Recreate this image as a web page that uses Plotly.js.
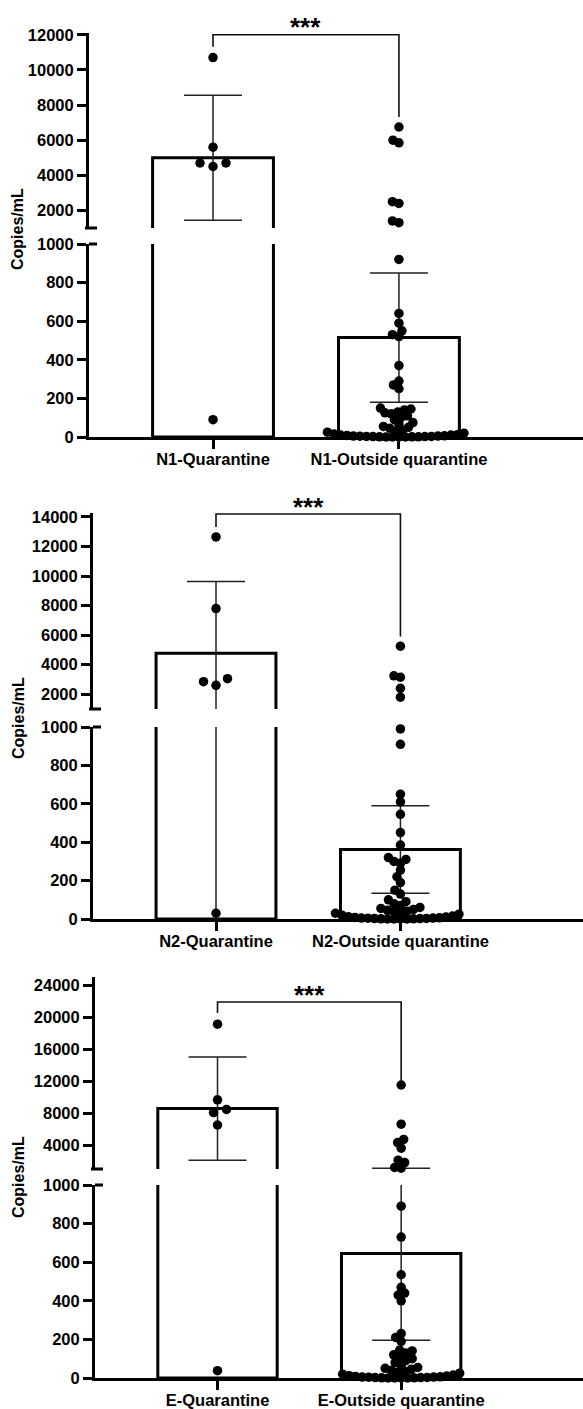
<!DOCTYPE html>
<html>
<head>
<meta charset="utf-8">
<script src="https://cdn.plot.ly/plotly-3.0.1.min.js"></script>
<style>html,body{margin:0;padding:0;background:#fff;}#chart{width:583px;height:1409px;}</style>
</head>
<body>
<div id="chart"></div>
<script>
// ---------- DATA ----------
const categoriesN1 = ['N1-Quarantine', 'N1-Outside quarantine'];
const categoriesN2 = ['N2-Quarantine', 'N2-Outside quarantine'];
const categoriesE  = ['E-Quarantine',  'E-Outside quarantine'];

const meansN1 = [5000, 515];
const sdN1    = [3560, 335];
const meansN2 = [4780, 362];
const sdN2    = [4850, 228];
const meansE  = [8550, 645];
const sdE     = [6450, 450];

const quarantineN1 = [10700, 5600, 4700, 4500, 4700, 90];
const outsideN1 = [6750, 6000, 5850, 2500, 2400, 1400, 1300,
  920, 640, 590, 550, 530, 520, 370, 290, 270, 250,
  150, 145, 140, 130, 125, 120, 110, 100, 90, 75, 65, 55, 50, 45,
  35, 30, 25, 20, 15, 12, 10, 10, 8, 6, 5, 5, 4, 3, 3, 2, 2, 1, 1, 1, 0, 0, 0, 0];

const quarantineN2 = [12650, 7800, 3050, 2600, 2850, 30];
const outsideN2 = [5250, 3250, 3150, 2400, 1800,
  990, 910, 650, 610, 545, 450, 385, 320, 310, 300, 290, 255, 220, 190, 150, 130,
  100, 90, 80, 70, 60, 55, 50, 45,
  40, 38, 35, 30, 25, 20, 15, 12, 10, 8, 6, 5, 5, 4, 3, 2, 2, 1, 1, 0, 0, 0, 0];

const quarantineE = [19100, 9650, 8450, 8050, 6500, 38];
const outsideE = [11500, 6600, 4700, 4300, 3600, 2100, 1800, 1200, 1100,
  890, 730, 535, 470, 440, 430, 400, 230, 210, 190,
  145, 140, 130, 120, 110, 100, 90, 80, 65, 55, 50, 45,
  40, 35, 30, 25, 20, 15, 12, 10, 8, 6, 5, 5, 4, 3, 2, 2, 1, 1, 0, 0, 0, 0];

const lowerTicks = [0, 200, 400, 600, 800, 1000];
const upperTicksN1 = [2000, 4000, 6000, 8000, 10000, 12000];
const upperTicksN2 = [2000, 4000, 6000, 8000, 10000, 12000, 14000];
const upperTicksE  = [4000, 8000, 12000, 16000, 20000, 24000];
const significance = ['***', '***', '***'];
const yTitle = 'Copies/mL';

// ---------- LAYOUT SETTINGS (pixels) ----------
const W = 583, H = 1409;
const FONT = 'Liberation Sans, Arial, Helvetica, sans-serif';
const XR = [-0.667, 1.99];
const panels = [
  {cats: categoriesN1, means: meansN1, sd: sdN1, q: quarantineN1, o: outsideN1, upTicks: upperTicksN1,
   axisX: 89, upT: 33, upB: 228, upTop: 12100, loT: 244, loB: 437,
   br: [11314, 12000, 7314], starY: 27, titleY: 229},
  {cats: categoriesN2, means: meansN2, sd: sdN2, q: quarantineN2, o: outsideN2, upTicks: upperTicksN2,
   axisX: 93, upT: 513, upB: 709, upTop: 14270, loT: 727, loB: 919,
   br: [13326, 14200, 5909], starY: 507, titleY: 718},
  {cats: categoriesE, means: meansE, sd: sdE, q: quarantineE, o: outsideE, upTicks: upperTicksE,
   axisX: 95, upT: 977, upB: 1169, upTop: 25000, loT: 1185, loB: 1378,
   br: [20500, 21875, 11750], starY: 995, titleY: 1177}
];

function swarmOffsets(vals, toPx, D) {
  const idx = vals.map((v, i) => i).sort((a, b) => vals[a] - vals[b]);
  const placed = [];
  const off = new Array(vals.length).fill(0);
  for (const i of idx) {
    const py = toPx(vals[i]);
    let chosen = 0;
    for (let k = 0; k < 600; k++) {
      const cand = (k % 2 === 0 ? 1 : -1) * Math.ceil(k / 2) * 0.5;
      let ok = true;
      for (const p of placed) {
        const dx = cand - p.x, dy = py - p.y;
        if (dx * dx + dy * dy < D * D) { ok = false; break; }
      }
      if (ok) { chosen = cand; break; }
    }
    placed.push({x: chosen, y: py});
    off[i] = chosen;
  }
  return off;
}

const traces = [];
const layout = {
  width: W, height: H, margin: {l: 0, r: 0, t: 0, b: 0},
  paper_bgcolor: '#fff', plot_bgcolor: '#fff', showlegend: false,
  shapes: [], annotations: []
};
const tickFont = {family: FONT, size: 16.5, weight: 'bold', color: '#000'};

panels.forEach((P, i) => {
  const xk = i === 0 ? 'x' : 'x' + (i + 1);
  const ylo = 'y' + (2 * i + 1 === 1 ? '' : (2 * i + 1));
  const yup = 'y' + (2 * i + 2);
  const xName = 'xaxis' + (i === 0 ? '' : i + 1);
  const yloName = 'yaxis' + (2 * i + 1 === 1 ? '' : (2 * i + 1));
  const yupName = 'yaxis' + (2 * i + 2);

  const common = {showline: true, linewidth: 3, linecolor: '#000', ticks: 'outside', ticklen: 9,
    tickwidth: 3, tickcolor: '#000', showgrid: false, zeroline: false, tickfont: tickFont,
    fixedrange: true, tickformat: 'd'};

  layout[xName] = Object.assign({}, common, {domain: [P.axisX / W, 1], range: XR, anchor: ylo,
    tickmode: 'array', tickvals: [0, 1], ticktext: P.cats, ticklabelstandoff: -4});
  layout[yloName] = Object.assign({}, common, {domain: [1 - P.loB / H, 1 - P.loT / H], range: [0, 1000],
    anchor: xk, tickmode: 'array', tickvals: lowerTicks});
  layout[yupName] = Object.assign({}, common, {domain: [1 - P.upB / H, 1 - P.upT / H], range: [1000, P.upTop],
    anchor: xk, tickmode: 'array', tickvals: P.upTicks});

  // bars in both segments
  [ylo, yup].forEach(ya => {
    traces.push({type: 'bar', x: [0, 1], y: P.means, xaxis: xk, yaxis: ya, width: 0.65,
      marker: {color: '#fff', line: {color: '#000', width: 3}},
      error_y: {type: 'data', array: P.sd, visible: true, color: '#222', thickness: 1.5, width: 29},
      hoverinfo: 'skip'});
  });

  // points
  const toPx = v => v < 1000 ? P.loB - v / 1000 * (P.loB - P.loT)
                             : P.upB - (v - 1000) / (P.upTop - 1000) * (P.upB - P.upT);
  const pxPerUnit = (W - P.axisX) / (XR[1] - XR[0]);
  const lo = {x: [], y: []}, up = {x: [], y: []};
  [P.q, P.o].forEach((vals, cat) => {
    const off = swarmOffsets(vals, toPx, cat === 0 ? 13 : 6.5);
    vals.forEach((v, j) => {
      const t = v < 1000 ? lo : up;
      t.x.push(cat + off[j] / pxPerUnit);
      t.y.push(v);
    });
  });
  [[lo, ylo], [up, yup]].forEach(([d, ya]) => {
    traces.push({type: 'scatter', mode: 'markers', x: d.x, y: d.y, xaxis: xk, yaxis: ya,
      cliponaxis: false, marker: {color: '#000', size: 9.5}, hoverinfo: 'skip'});
  });

  // significance bracket
  layout.shapes.push({type: 'path', xref: xk, yref: yup,
    path: `M0,${P.br[0]} L0,${P.br[1]} L1,${P.br[1]} L1,${P.br[2]}`,
    line: {color: '#111', width: 1.6}});
  // axis break marks
  layout.shapes.push({type: 'line', xref: 'paper', yref: 'paper',
    x0: (P.axisX - 4) / W, x1: (P.axisX + 8) / W, y0: 1 - P.upB / H, y1: 1 - P.upB / H,
    line: {color: '#000', width: 3}});
  layout.shapes.push({type: 'line', xref: 'paper', yref: 'paper',
    x0: (P.axisX) / W, x1: (P.axisX + 8) / W, y0: 1 - P.loT / H, y1: 1 - P.loT / H,
    line: {color: '#000', width: 3}});

  layout.annotations.push({text: significance[i], xref: xk, yref: 'paper', x: 0.5, y: 1 - P.starY / H,
    showarrow: false, xanchor: 'center', yanchor: 'middle',
    font: {family: FONT, size: 26, weight: 'bold', color: '#000'}});
  layout.annotations.push({text: yTitle, xref: 'paper', yref: 'paper', x: 18 / W, y: 1 - P.titleY / H,
    showarrow: false, textangle: -90, xanchor: 'center', yanchor: 'middle',
    font: {family: FONT, size: 16, weight: 'bold', color: '#000'}});
});

Plotly.newPlot('chart', traces, layout, {staticPlot: true, displayModeBar: false});
</script>
</body>
</html>
